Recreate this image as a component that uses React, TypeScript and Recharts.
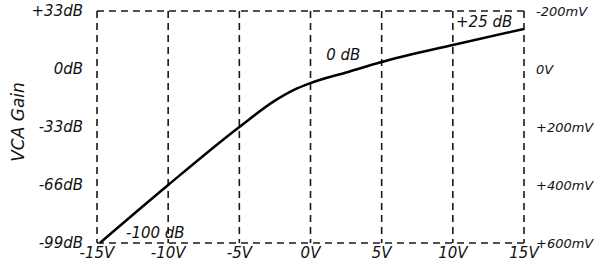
import React from 'react';
import { LineChart, Line, XAxis, YAxis, CartesianGrid, ReferenceDot } from 'recharts';

// control voltage (V) vs gain (dB)
const volts = [-14.8, -10, -5, -2.5, -1.2, 0, 2.5, 5, 10, 15];
const gainDb = [-99, -66, -33, -18, -12, -8, -2, 4, 13.7, 22.8];

const xTicks = [-15, -10, -5, 0, 5, 10, 15];
const dbTicks = [-99, -66, -33, 0, 33];
const dbLabels = ['-99dB', '-66dB', '-33dB', '0dB', '+33dB'];
const mvTicks = [-200, 0, 200, 400, 600];
const mvLabels = ['-200mV', '0V', '+200mV', '+400mV', '+600mV'];

const noteText = ['-100 dB', '0 dB', '+25 dB'];
const noteX = [-10.9, 2.3, 12.2];
const noteY = [-93, 8, 26.7];

const data = volts.map((v, i) => ({ v, db: gainDb[i] }));

const font = { fontFamily: 'DejaVu Sans', fontStyle: 'italic', fontSize: 15, fill: '#111' };
const ink = '#1a1a1a';

export default function App() {
  return (
    <div style={{ position: 'absolute', left: 0, top: 0, background: '#fff' }}>
      <LineChart width={600} height={269} data={data} margin={{ top: 11, right: 0, bottom: 0, left: 0 }}>
        <CartesianGrid stroke={ink} strokeWidth={1.6} strokeDasharray="7 5" />
        <XAxis
          dataKey="v"
          type="number"
          domain={[-15, 15]}
          ticks={xTicks}
          tickFormatter={(v) => `${v}V`}
          axisLine={false}
          tickLine={false}
          tickSize={2}
          height={26}
          tick={font}
        />
        <YAxis
          yAxisId="db"
          type="number"
          domain={[-99, 33]}
          ticks={dbTicks}
          tickFormatter={(v) => dbLabels[dbTicks.indexOf(v)]}
          axisLine={false}
          tickLine={false}
          tickMargin={8}
          width={97}
          tick={font}
          label={{
            content: (props: any) => {
              const vb = props.viewBox;
              const cx = vb.x + 18;
              const cy = vb.y + vb.height / 2 - 5;
              return (
                <text x={cx} y={cy} transform={`rotate(-90 ${cx} ${cy})`} textAnchor="middle" dominantBaseline="central" {...font} fontSize={17}>
                  VCA Gain
                </text>
              );
            },
          }}
        />
        <YAxis
          yAxisId="mv"
          orientation="right"
          type="number"
          domain={[-200, 600]}
          allowDataOverflow
          reversed
          ticks={mvTicks}
          tickFormatter={(v) => mvLabels[mvTicks.indexOf(v)]}
          axisLine={false}
          tickLine={false}
          tickMargin={6}
          width={76}
          tick={{ ...font, fontSize: 13 }}
        />
        <Line
          yAxisId="db"
          type="monotone"
          dataKey="db"
          stroke="#000"
          strokeWidth={2.5}
          dot={false}
          isAnimationActive={false}
        />
        {noteText.map((t, i) => (
          <ReferenceDot
            key={t}
            yAxisId="db"
            x={noteX[i]}
            y={noteY[i]}
            r={0}
            label={{ value: t, position: 'center', ...font }}
          />
        ))}
      </LineChart>
    </div>
  );
}
